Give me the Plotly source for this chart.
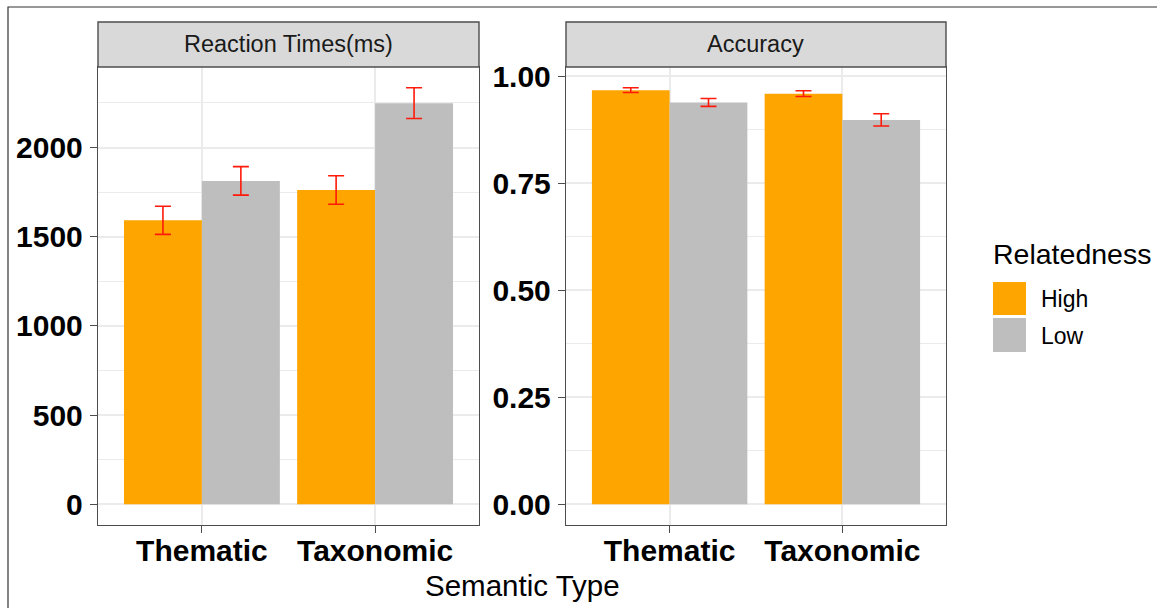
import plotly.graph_objects as go

# ---- data ----
categories = ["Thematic", "Taxonomic"]
groups = ["High", "Low"]
rt_high = [1592, 1762]
rt_high_se = [79, 80]
rt_low = [1813, 2249]
rt_low_se = [80, 86]
acc_high = [0.968, 0.9597]
acc_high_se = [0.0054, 0.0067]
acc_low = [0.9393, 0.8983]
acc_low_se = [0.0093, 0.0143]
rt_ticks = [0, 500, 1000, 1500, 2000]
acc_ticks = [0.0, 0.25, 0.5, 0.75, 1.0]
acc_ticklabels = ["0.00", "0.25", "0.50", "0.75", "1.00"]

# ---- style ----
W, H = 1157, 608
FONT = "Liberation Sans"
COL = {"High": "#FFA500", "Low": "#BEBEBE"}
ERR = "#FF1A0A"
GRID = "#EBEBEB"
BORDER = "#4D4D4D"


def px(x):
    return x / W


def py(y):
    return (H - y) / H


L1, R1 = 98, 479
L2, R2 = 566, 946
PT, PB = 67, 525
ST = 22

fig = go.Figure()

series = [
    ("High", rt_high, rt_high_se, acc_high, acc_high_se),
    ("Low", rt_low, rt_low_se, acc_low, acc_low_se),
]
for name, rt, rtse, acc, accse in series:
    fig.add_trace(go.Bar(
        x=categories, y=rt, name=name, marker=dict(color=COL[name], line=dict(width=0)),
        error_y=dict(type="data", array=rtse, color=ERR, thickness=1.6, width=8),
        xaxis="x", yaxis="y", showlegend=False, offsetgroup=name,
    ))
    fig.add_trace(go.Bar(
        x=categories, y=acc, name=name, marker=dict(color=COL[name], line=dict(width=0)),
        error_y=dict(type="data", array=accse, color=ERR, thickness=1.6, width=8),
        xaxis="x2", yaxis="y2", showlegend=False, offsetgroup=name,
    ))

rt_max = max([a + b for a, b in zip(rt_high, rt_high_se)] + [a + b for a, b in zip(rt_low, rt_low_se)])
acc_max = max([a + b for a, b in zip(acc_high, acc_high_se)] + [a + b for a, b in zip(acc_low, acc_low_se)])

tickfont = dict(family=FONT, size=30, color="black", weight="bold")

xcommon = dict(
    type="category", range=[-0.6, 1.6], showgrid=True, gridcolor=GRID, gridwidth=1.6,
    showline=True, mirror=True, linecolor=BORDER, linewidth=1.4,
    ticks="outside", ticklen=7, tickcolor=BORDER, tickwidth=1.4,
    tickfont=tickfont, zeroline=False, automargin=False, ticklabelstandoff=-8,
)
ycommon = dict(
    showgrid=True, gridcolor=GRID, gridwidth=1.6,
    showline=True, mirror=True, linecolor=BORDER, linewidth=1.4,
    ticks="outside", ticklen=7, tickcolor=BORDER, tickwidth=1.4,
    tickfont=tickfont, zeroline=False, automargin=False, ticklabelstandoff=1,
    domain=[py(PB), py(PT)],
)

fig.update_layout(
    width=W, height=H, margin=dict(l=0, r=0, t=0, b=0),
    paper_bgcolor="white", plot_bgcolor="white",
    barmode="group", bargap=0.1, bargroupgap=0,
    font=dict(family=FONT),
    xaxis=dict(xcommon, domain=[px(L1), px(R1)], anchor="y"),
    xaxis2=dict(xcommon, domain=[px(L2), px(R2)], anchor="y2"),
    yaxis=dict(ycommon, anchor="x", range=[-0.05 * rt_max, 1.05 * rt_max],
               tickvals=rt_ticks, ticktext=[str(t) for t in rt_ticks],
               minor=dict(dtick=250, showgrid=True, gridcolor=GRID, gridwidth=0.8, ticks="")),
    yaxis2=dict(ycommon, anchor="x2", range=[-0.05 * acc_max, 1.05 * acc_max],
                tickvals=acc_ticks, ticktext=acc_ticklabels,
                minor=dict(dtick=0.125, showgrid=True, gridcolor=GRID, gridwidth=0.8, ticks="")),
)

shapes = []
# outer frame
shapes.append(dict(type="rect", xref="paper", yref="paper", x0=px(8), x1=px(W + 10), y0=py(H + 10), y1=py(7),
                   line=dict(color="#333333", width=1.2), fillcolor="rgba(0,0,0,0)", layer="below"))
# strips
for l, r in [(L1, R1), (L2, R2)]:
    shapes.append(dict(type="rect", xref="paper", yref="paper", x0=px(l), x1=px(r), y0=py(PT), y1=py(ST),
                       line=dict(color=BORDER, width=1.4), fillcolor="#D9D9D9"))
# legend keys
shapes.append(dict(type="rect", xref="paper", yref="paper", x0=px(993), x1=px(1026), y0=py(315), y1=py(282),
                   line=dict(width=0), fillcolor=COL["High"]))
shapes.append(dict(type="rect", xref="paper", yref="paper", x0=px(993), x1=px(1026), y0=py(352), y1=py(318),
                   line=dict(width=0), fillcolor=COL["Low"]))
fig.update_layout(shapes=shapes)

ann = [
    dict(text="Reaction Times(ms)", x=px((L1 + R1) / 2), y=py((ST + PT) / 2), size=23.5, color="#1A1A1A",
         xanchor="center"),
    dict(text="Accuracy", x=px((L2 + R2) / 2), y=py((ST + PT) / 2), size=23.5, color="#1A1A1A", xanchor="center"),
    dict(text="Semantic Type", x=px((L1 + R2) / 2), y=py(585), size=29.5, color="black", xanchor="center"),
    dict(text="Relatedness", x=px(991), y=py(254), size=28.5, color="black", xanchor="left"),
    dict(text="High", x=px(1039), y=py(299), size=23, color="black", xanchor="left"),
    dict(text="Low", x=px(1039), y=py(336), size=23, color="black", xanchor="left"),
]
fig.update_layout(annotations=[
    dict(text=a["text"], x=a["x"], y=a["y"], xref="paper", yref="paper", showarrow=False,
         xanchor=a["xanchor"], yanchor="middle",
         font=dict(family=FONT, size=a["size"], color=a["color"]))
    for a in ann
])

fig.write_html("out.html", config={"displayModeBar": False},
               post_script="document.body.style.margin='0';document.body.style.padding='0';")
